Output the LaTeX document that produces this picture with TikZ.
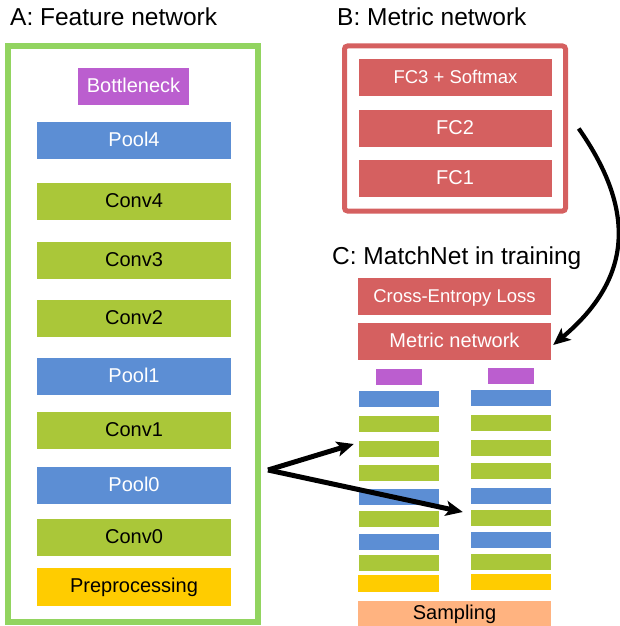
\documentclass[tikz,border=0pt]{standalone}
\usepackage{fontspec}
\setmainfont{Liberation Sans}
\usepackage{tikz}
\usetikzlibrary{arrows.meta}
\definecolor{convgreen}{RGB}{170,199,57}
\definecolor{poolblue}{RGB}{92,142,212}
\definecolor{neckpurple}{RGB}{187,94,207}
\definecolor{fcred}{RGB}{213,96,96}
\definecolor{prepyellow}{RGB}{255,204,0}
\definecolor{samporange}{RGB}{255,179,128}
\definecolor{framegreen}{RGB}{146,212,96}

\begin{document}
\begin{tikzpicture}[x=1pt,y=-1pt]
  \tikzstyle{Layer}=[inner sep=0pt,text height=14.3pt,text depth=3.2pt,
    font=\fontsize{20}{24}\selectfont,minimum width=194pt,minimum height=37pt]
  \tikzstyle{Conv}=[Layer,fill=convgreen,text=black]
  \tikzstyle{Pool}=[Layer,fill=poolblue,text=white]
  \tikzstyle{FC}=[Layer,fill=fcred,text=white,minimum width=193pt]
  \tikzstyle{Title}=[anchor=base west,inner sep=0pt,font=\fontsize{24.5}{30}\selectfont]
  \tikzstyle{Mini}=[inner sep=0pt,minimum width=80pt,minimum height=16pt]
  \tikzstyle{Link}=[draw=black,line width=5pt,-{Stealth[length=17pt,width=15pt,inset=4pt]}]
  \useasboundingbox (0,0) rectangle (619,626);
  % A: feature network
  \node[Title] (titleA) at (10,26) {A: Feature network};
  \node[draw=framegreen,line width=6pt,minimum width=250pt,minimum height=576pt,
    inner sep=0pt] (frameA) at (133,334) {};
  \node[Layer,fill=neckpurple,text=white,minimum width=111pt] (neck) at (133.5,86.5) {Bottleneck};
  \node[Pool] (pool4) at (134,140.5) {Pool4};
  \node[Conv] (conv4) at (134,201.5) {Conv4};
  \node[Conv] (conv3) at (134,260.5) {Conv3};
  \node[Conv] (conv2) at (134,318.5) {Conv2};
  \node[Pool] (pool1) at (134,376.5) {Pool1};
  \node[Conv] (conv1) at (134,430.5) {Conv1};
  \node[Pool] (pool0) at (134,485.5) {Pool0};
  \node[Conv] (conv0) at (134,537.5) {Conv0};
  \node[Layer,fill=prepyellow,minimum height=38pt] (prep) at (134,587) {Preprocessing};
  % B: metric network
  \node[Title] (titleB) at (337,26) {B: Metric network};
  \node[draw=fcred,line width=5pt,rounded corners=3pt,minimum width=221pt,
    minimum height=165pt,inner sep=0pt] (frameB) at (455,128.5) {};
  \node[FC,font=\fontsize{18.5}{22}\selectfont] (fc3) at (455.5,77.5) {FC3 + Softmax};
  \node[FC] (fc2) at (455,128.5) {FC2};
  \node[FC] (fc1) at (455,178.5) {FC1};
  % C: MatchNet in training
  \node[Title] (titleC) at (332,264) {C: MatchNet in training};
  \node[FC,font=\fontsize{18.5}{22}\selectfont] (loss) at (454.5,296.5) {Cross-Entropy Loss};
  \node[FC] (metric) at (454.5,341.5) {Metric network};
  % left tower
  \node[Mini,fill=neckpurple,minimum width=46pt] (ln) at (399,377) {};
  \node[Mini,fill=poolblue] (lp4) at (399,399) {};
  \node[Mini,fill=convgreen] (lc4) at (399,424) {};
  \node[Mini,fill=convgreen] (lc3) at (399,449) {};
  \node[Mini,fill=convgreen] (lc2) at (399,473) {};
  \node[Mini,fill=poolblue] (lp1) at (399,497) {};
  \node[Mini,fill=convgreen] (lc1) at (399,519) {};
  \node[Mini,fill=poolblue] (lp0) at (399,542) {};
  \node[Mini,fill=convgreen] (lc0) at (399,563) {};
  \node[Mini,fill=prepyellow,minimum width=81pt,minimum height=17pt] (lpre) at (398.5,583.5) {};
  % right tower
  \node[Mini,fill=neckpurple,minimum width=46pt] (rn) at (511,376) {};
  \node[Mini,fill=poolblue] (rp4) at (511,398) {};
  \node[Mini,fill=convgreen] (rc4) at (511,423) {};
  \node[Mini,fill=convgreen] (rc3) at (511,448) {};
  \node[Mini,fill=convgreen] (rc2) at (511,471) {};
  \node[Mini,fill=poolblue] (rp1) at (511,496) {};
  \node[Mini,fill=convgreen] (rc1) at (511,518) {};
  \node[Mini,fill=poolblue] (rp0) at (511,540) {};
  \node[Mini,fill=convgreen] (rc0) at (511,562) {};
  \node[Mini,fill=prepyellow] (rpre) at (511,582) {};
  \node[Layer,fill=samporange,minimum width=193pt,minimum height=25pt] (samp) at (454.5,613.5) {Sampling};
  % arrows
  \coordinate (split) at (268,470);
  \path[Link] (split) -- ([xshift=-5pt,yshift=5pt]lc3.west);
  \path[Link] (split) -- ([xshift=-8pt,yshift=6pt]rc1.west);
  \path[Link,line width=4.2pt] ([xshift=27pt]fc2.east) to[out=-55,in=40,looseness=1.2] ([xshift=2pt,yshift=-3.5pt]metric.east);
\end{tikzpicture}
\end{document}
